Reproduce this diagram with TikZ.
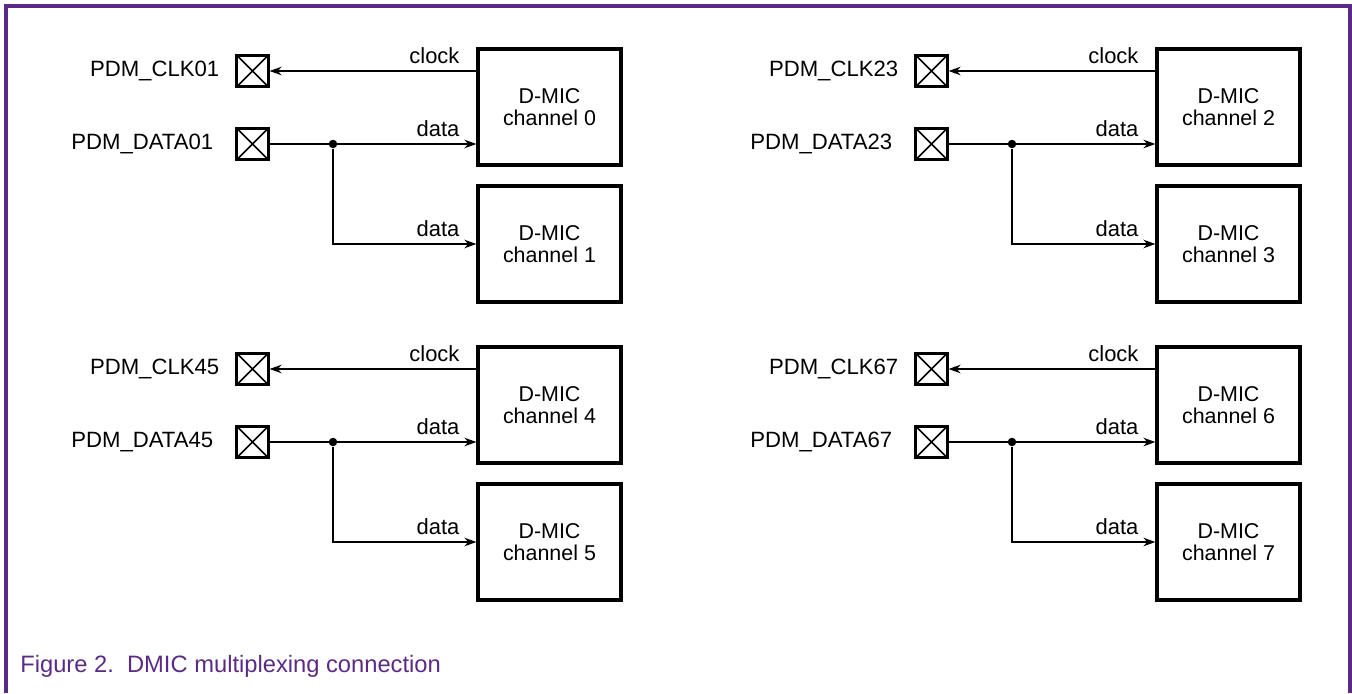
\documentclass[tikz,border=0pt]{standalone}
\usepackage{fontspec}
\setmainfont{Liberation Sans}
\usetikzlibrary{arrows.meta,positioning}
\definecolor{nxppurple}{HTML}{5B2A86}
\tikzset{
  mic/.style={draw, line width=1.8pt, minimum width=2.86cm, minimum height=2.32cm,
    align=center, font=\fontsize{12.2}{12.5}\selectfont},
  pad/.style={draw, line width=1.5pt, minimum size=0.63cm, inner sep=0pt,
    path picture={\draw[line width=0.9pt]
      (path picture bounding box.south west) -- (path picture bounding box.north east)
      (path picture bounding box.north west) -- (path picture bounding box.south east);}},
  pin/.style={font=\fontsize{12.6}{14}\selectfont},
  sig/.style={line width=1.3pt, -{Stealth[length=2.4mm,width=1.7mm]}},
  tag/.style={font=\fontsize{12.5}{14}\selectfont, anchor=south east, xshift=-0.2cm},
  dot/.style={circle, fill, inner sep=0pt, minimum size=0.17cm},
}
\begin{document}
\begin{tikzpicture}[x=0.02cm, y=-0.02cm]
  \useasboundingbox (0,0) rectangle (1352,693);
  \draw[nxppurple, line width=0.065cm] (6,693) -- (6,6) -- (1350,6) -- (1350,693);
  % one clock/data pair per two D-MIC channels
  \foreach \a/\b/\dx/\dy in {0/1/0/0, 2/3/679/0, 4/5/0/298, 6/7/679/298} {
    \begin{scope}[shift={(\dx,\dy)}]
      \node[mic] (mic\a) at (549.5,107) {D-MIC\\channel \a};
      \node[mic] (mic\b) at (549.5,244) {D-MIC\\channel \b};
      \node[pad] (clk\a) at (252.5,71) {};
      \node[pad] (dat\a) at (252.5,144) {};
      \node[pin, left=0.2cm of clk\a] (nclk\a) {PDM\_CLK\a\b};
      \node[pin, left=0.32cm of dat\a] (ndat\a) {PDM\_DATA\a\b};
      \node[dot] (j\a) at (333,144) {};
      \draw[sig] (mic\a.west |- clk\a) -- (clk\a) node[tag, pos=0] {clock};
      \draw[sig] (dat\a) -- (mic\a.west |- dat\a) node[tag, pos=1] {data};
      \draw[sig] (j\a) |- (mic\b) node[tag, pos=1] {data};
    \end{scope}
  }
  \node[anchor=base west, inner sep=0pt, text=nxppurple, font=\fontsize{13.5}{16}\selectfont]
    (cap) at (20,672) {Figure 2.\ \ DMIC multiplexing connection};
\end{tikzpicture}
\end{document}
